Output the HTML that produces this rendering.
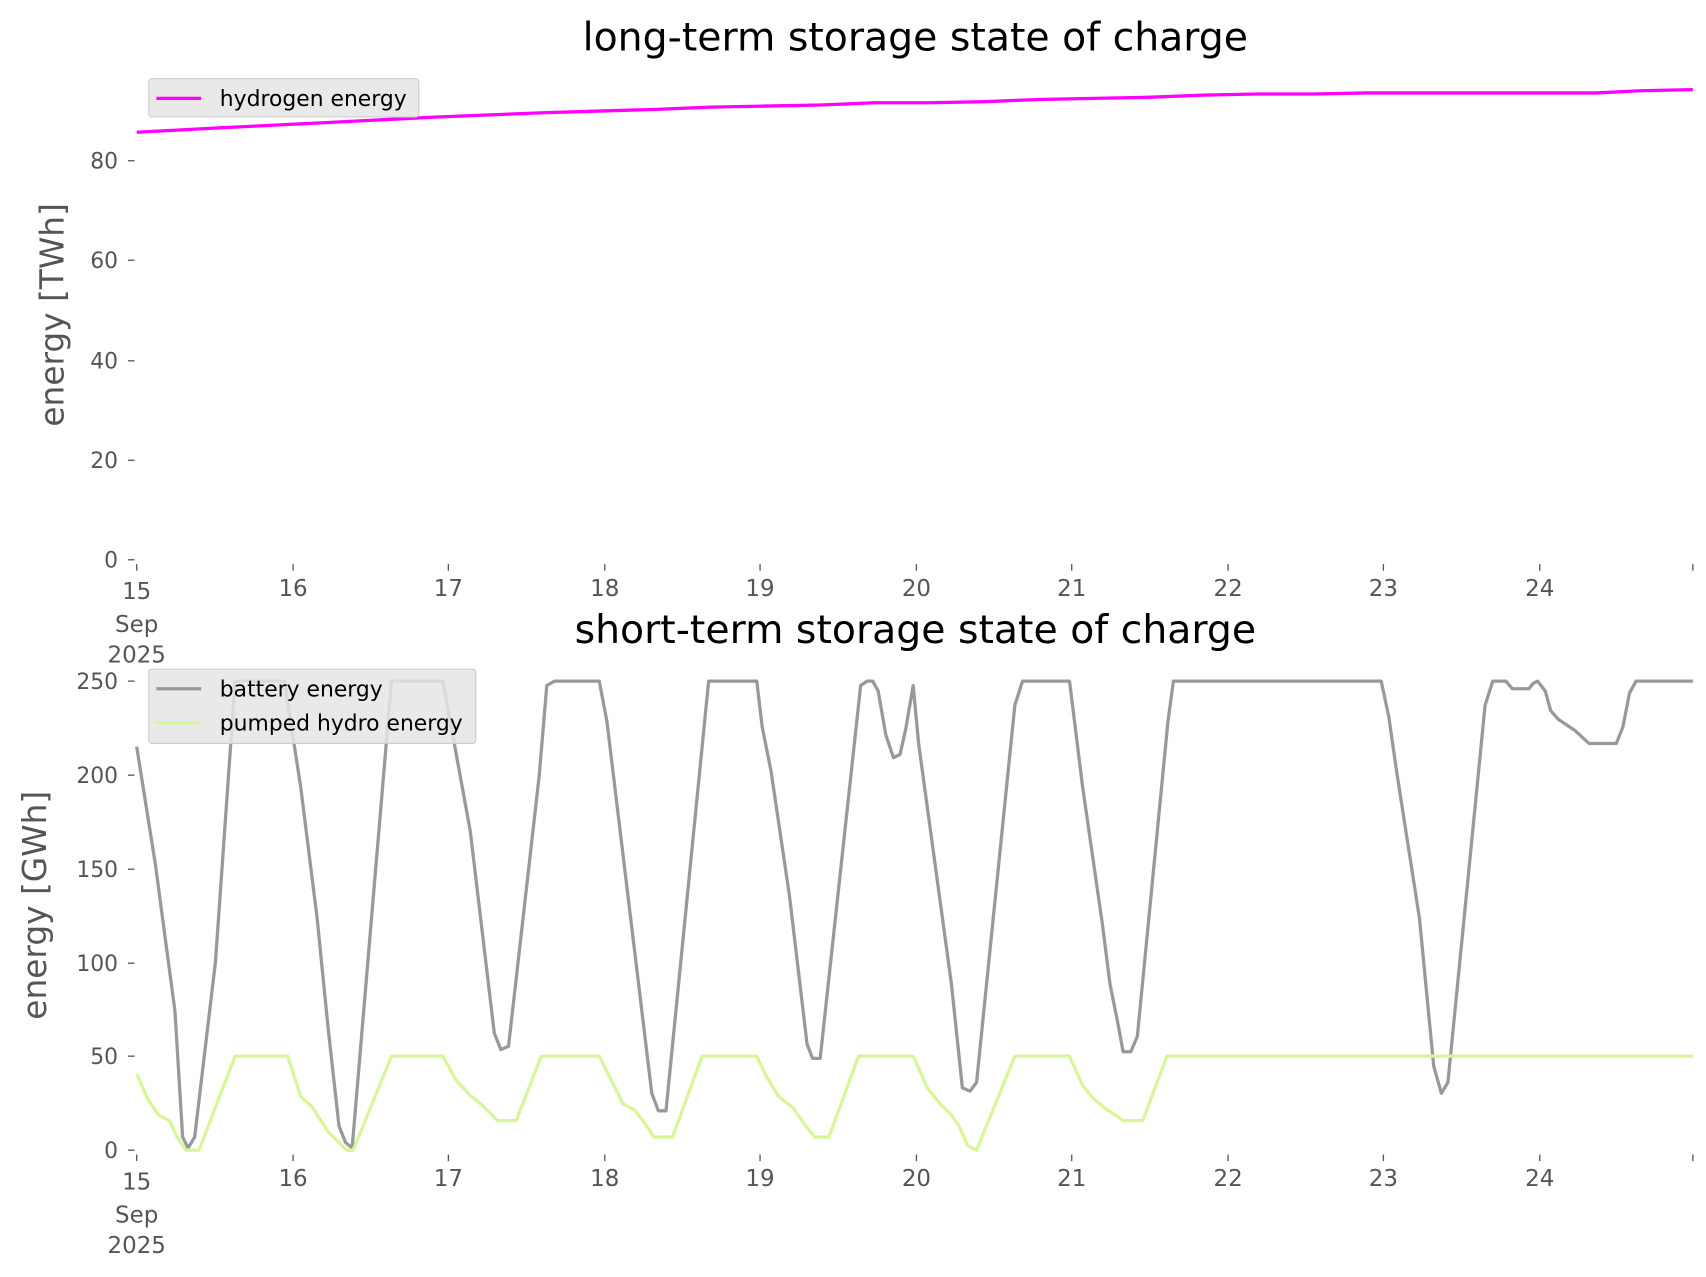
<!DOCTYPE html>
<html><head><meta charset="utf-8"><style>html,body{margin:0;padding:0;background:#fff}svg{display:block}</style></head>
<body>
<svg width="1706" height="1277" viewBox="0 0 1560 1168" preserveAspectRatio="none" xmlns="http://www.w3.org/2000/svg" font-family="DejaVu Sans, Liberation Sans, sans-serif">
<rect width="1560" height="1168" fill="#fff"/>
<!-- TOP -->
<text x="837" y="46" font-size="36" text-anchor="middle" fill="#000">long-term storage state of charge</text>
<g fill="#555" font-size="20" text-anchor="end">
<text x="108" y="154">80</text><text x="108" y="245">60</text><text x="108" y="337">40</text><text x="108" y="428">20</text><text x="108" y="519">0</text>
</g>
<g stroke="#555" stroke-width="1.2">
<line x1="117" y1="147" x2="123" y2="147"/><line x1="117" y1="238" x2="123" y2="238"/><line x1="117" y1="330" x2="123" y2="330"/><line x1="117" y1="421" x2="123" y2="421"/><line x1="117" y1="512" x2="123" y2="512"/>
</g>
<text transform="translate(58,288) rotate(-90)" font-size="30" fill="#555" text-anchor="middle">energy [TWh]</text>
<g fill="#555" font-size="21" text-anchor="middle">
<text x="125" y="548">15</text><text x="125" y="578">Sep</text><text x="125" y="606">2025</text>
<text x="268" y="545">16</text><text x="410" y="545">17</text><text x="553" y="545">18</text><text x="695" y="545">19</text><text x="838" y="545">20</text><text x="980" y="545">21</text><text x="1123" y="545">22</text><text x="1265" y="545">23</text><text x="1408" y="545">24</text>
</g>
<g stroke="#555" stroke-width="1.2">
<line x1="125" y1="516" x2="125" y2="522"/><line x1="268" y1="516" x2="268" y2="522"/><line x1="410" y1="516" x2="410" y2="522"/><line x1="553" y1="516" x2="553" y2="522"/><line x1="695" y1="516" x2="695" y2="522"/><line x1="838" y1="516" x2="838" y2="522"/><line x1="980" y1="516" x2="980" y2="522"/><line x1="1123" y1="516" x2="1123" y2="522"/><line x1="1265" y1="516" x2="1265" y2="522"/><line x1="1408" y1="516" x2="1408" y2="522"/><line x1="1548" y1="516" x2="1548" y2="522"/>
</g>
<polyline fill="none" stroke="#ff00ff" stroke-width="3" points="125,121 200,117 300,112 400,107 500,103 600,100 650,98 700,97 750,96 800,94 850,94 900,93 950,91 1000,90 1050,89 1100,87 1150,86 1200,86 1250,85 1300,85 1350,85 1400,85 1460,85 1500,83 1548,82"/>
<rect x="136" y="72" width="247" height="35" rx="3" fill="#e5e5e5" fill-opacity="0.85" stroke="#ccc"/>
<line x1="143" y1="90" x2="184" y2="90" stroke="#ff00ff" stroke-width="3"/>
<text x="201" y="97" font-size="20" fill="#000">hydrogen energy</text>

<!-- BOTTOM -->
<text x="837" y="588" font-size="36" text-anchor="middle" fill="#000">short-term storage state of charge</text>
<g fill="#555" font-size="20" text-anchor="end">
<text x="108" y="630">250</text><text x="108" y="716">200</text><text x="108" y="802">150</text><text x="108" y="888">100</text><text x="108" y="973">50</text><text x="108" y="1059">0</text>
</g>
<g stroke="#555" stroke-width="1.2">
<line x1="117" y1="623" x2="123" y2="623"/><line x1="117" y1="709" x2="123" y2="709"/><line x1="117" y1="795" x2="123" y2="795"/><line x1="117" y1="881" x2="123" y2="881"/><line x1="117" y1="966" x2="123" y2="966"/><line x1="117" y1="1052" x2="123" y2="1052"/>
</g>
<text transform="translate(42,828) rotate(-90)" font-size="30" fill="#555" text-anchor="middle">energy [GWh]</text>
<g fill="#555" font-size="21" text-anchor="middle">
<text x="125" y="1088">15</text><text x="125" y="1118">Sep</text><text x="125" y="1146">2025</text>
<text x="268" y="1085">16</text><text x="410" y="1085">17</text><text x="553" y="1085">18</text><text x="695" y="1085">19</text><text x="838" y="1085">20</text><text x="980" y="1085">21</text><text x="1123" y="1085">22</text><text x="1265" y="1085">23</text><text x="1408" y="1085">24</text>
</g>
<g stroke="#555" stroke-width="1.2">
<line x1="125" y1="1056" x2="125" y2="1062"/><line x1="268" y1="1056" x2="268" y2="1062"/><line x1="410" y1="1056" x2="410" y2="1062"/><line x1="553" y1="1056" x2="553" y2="1062"/><line x1="695" y1="1056" x2="695" y2="1062"/><line x1="838" y1="1056" x2="838" y2="1062"/><line x1="980" y1="1056" x2="980" y2="1062"/><line x1="1123" y1="1056" x2="1123" y2="1062"/><line x1="1265" y1="1056" x2="1265" y2="1062"/><line x1="1408" y1="1056" x2="1408" y2="1062"/><line x1="1548" y1="1056" x2="1548" y2="1062"/>
</g>
<polyline fill="none" stroke="#999" stroke-width="3" stroke-linejoin="round" points="125,683 142,790 160,925 167,1040 172,1050 178,1040 197,880 215,623 260,623 275,720 290,840 300,940 310,1030 316,1045 322,1050 358,623 405,623 430,760 452,945 458,960 465,957 493,710 500,627 507,623 548,623 555,660 596,1000 602,1016 609,1016 648,623 692,623 697,665 705,705 722,820 738,955 743,968 750,968 787,627 793,623 798,623 803,632 810,672 817,693 823,690 828,668 835,627 840,680 870,900 880,995 887,998 893,990 928,645 935,623 978,623 990,720 1008,845 1015,900 1022,935 1027,962 1034,962 1040,948 1068,660 1073,623 1263,623 1270,656 1277,705 1298,840 1311,975 1318,1000 1324,990 1358,645 1365,623 1377,623 1383,630 1398,630 1402,625 1406,623 1413,632 1418,650 1425,658 1440,668 1453,680 1478,680 1484,665 1490,634 1496,623 1548,623"/>
<polyline fill="none" stroke="#d9f59a" stroke-width="3" stroke-linejoin="round" points="125,982 135,1005 145,1020 155,1025 162,1040 170,1052 182,1052 215,966 263,966 275,1003 285,1012 300,1035 317,1052 323,1052 358,966 405,966 417,988 430,1002 440,1010 455,1025 472,1025 495,966 548,966 555,980 570,1010 580,1015 588,1025 598,1040 615,1040 642,966 692,966 700,983 712,1003 725,1013 737,1030 745,1040 758,1040 785,966 835,966 848,995 860,1010 870,1020 877,1030 885,1048 893,1052 928,966 978,966 990,993 1000,1005 1012,1015 1020,1020 1027,1025 1045,1025 1067,966 1548,966"/>
<rect x="136" y="612" width="299" height="68" rx="3" fill="#e5e5e5" fill-opacity="0.85" stroke="#ccc"/>
<line x1="143" y1="630" x2="184" y2="630" stroke="#999" stroke-width="3"/>
<text x="201" y="637" font-size="20" fill="#000">battery energy</text>
<line x1="143" y1="661" x2="184" y2="661" stroke="#d9f59a" stroke-width="3"/>
<text x="201" y="668" font-size="20" fill="#000">pumped hydro energy</text>
</svg>
</body></html>
